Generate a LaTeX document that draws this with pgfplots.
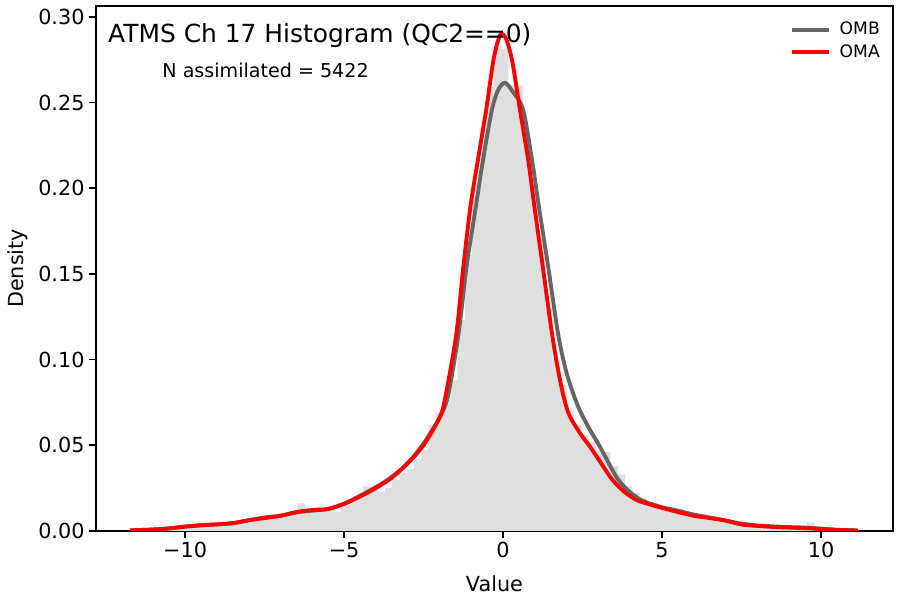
\documentclass[border=0pt]{standalone}
\usepackage{pgfplots}
\pgfplotsset{compat=1.18}
\usepackage{fontspec}
\setmainfont{DejaVu Sans}
\definecolor{histgray}{RGB}{223,223,223}
\definecolor{ombgray}{RGB}{102,102,102}
\begin{document}
\begin{tikzpicture}
\begin{axis}[
  scale only axis,
  width=576pt, height=379.4pt,
  xmin=-12.80, xmax=12.26,
  ymin=0, ymax=0.3064,
  axis line style={line width=1.1pt},
  tick style={black, line width=1.1pt},
  tick align=outside,
  major tick length=4.8pt,
  xtick pos=bottom, ytick pos=left,
  xtick={-10,-5,0,5,10},
  xticklabels={−10,−5,0,5,10},
  ytick={0,0.05,0.10,0.15,0.20,0.25,0.30},
  yticklabels={0.00,0.05,0.10,0.15,0.20,0.25,0.30},
  tick label style={font=\fontsize{15}{18}\selectfont},
  xlabel={Value}, ylabel={Density},
  xlabel style={at={(axis description cs:0.5,-0.1161)}, anchor=base, font=\fontsize{15}{18}\selectfont},
  ylabel style={at={(axis description cs:-0.0916,0.5)}, anchor=base, font=\fontsize{15}{18}\selectfont},
  legend style={at={(rel axis cs:0.9925,0.98)}, anchor=north east, draw=none, fill=none,
    font=\fontsize{12.4}{14}\selectfont, row sep=1.5pt},
  legend cell align=left,
  legend image code/.code={\draw[#1] (0pt,0pt) -- (26.7pt,0pt); \path (31pt,0pt);},
]
\addplot[ybar interval, fill=histgray, draw=none, forget plot] coordinates {
(-11.73,0.0004) (-11.50,0.0004) (-11.27,0.0000) (-11.04,0.0008) (-10.81,0.0012)
(-10.59,0.0015) (-10.36,0.0022) (-10.13,0.0035) (-9.90,0.0040) (-9.67,0.0035)
(-9.44,0.0038) (-9.21,0.0035) (-8.98,0.0042) (-8.75,0.0045) (-8.53,0.0050)
(-8.30,0.0060) (-8.07,0.0065) (-7.84,0.0075) (-7.61,0.0080) (-7.38,0.0085)
(-7.15,0.0088) (-6.92,0.0095) (-6.69,0.0110) (-6.47,0.0160) (-6.24,0.0120)
(-6.01,0.0125) (-5.78,0.0120) (-5.55,0.0130) (-5.32,0.0110) (-5.09,0.0150)
(-4.86,0.0175) (-4.63,0.0200) (-4.41,0.0260) (-4.18,0.0260) (-3.95,0.0230)
(-3.72,0.0250) (-3.49,0.0300) (-3.26,0.0340) (-3.03,0.0360) (-2.80,0.0420)
(-2.57,0.0470) (-2.35,0.0620) (-2.12,0.0690) (-1.89,0.0780) (-1.66,0.0880)
(-1.43,0.1230) (-1.20,0.1610) (-0.97,0.2020) (-0.74,0.2350) (-0.51,0.2590)
(-0.29,0.2830) (-0.06,0.2810) (0.17,0.2600) (0.40,0.2600) (0.63,0.2270)
(0.86,0.2030) (1.09,0.1700) (1.32,0.1300) (1.55,0.1000) (1.77,0.0850)
(2.00,0.0700) (2.23,0.0620) (2.46,0.0560) (2.69,0.0520) (2.92,0.0470)
(3.15,0.0460) (3.38,0.0380) (3.61,0.0330) (3.84,0.0260) (4.06,0.0220)
(4.29,0.0190) (4.52,0.0160) (4.75,0.0150) (4.98,0.0130) (5.21,0.0120)
(5.44,0.0125) (5.67,0.0110) (5.90,0.0090) (6.13,0.0085) (6.35,0.0080)
(6.58,0.0072) (6.81,0.0070) (7.04,0.0062) (7.27,0.0040) (7.50,0.0035)
(7.73,0.0032) (7.96,0.0030) (8.19,0.0028) (8.42,0.0025) (8.64,0.0020)
(8.87,0.0018) (9.10,0.0022) (9.33,0.0015) (9.56,0.0050) (9.79,0.0015)
(10.02,0.0010) (10.25,0.0008) (10.48,0.0005) (10.71,0.0004) (10.94,0.0004)
(11.17,0)
};
\addplot[ombgray, line width=2.8pt, smooth, tension=0.5] coordinates {
(-11.73,0.0003) (-11,0.0008) (-10.5,0.0015) (-10,0.0025) (-9.5,0.0032)
(-9,0.0038) (-8.5,0.0045) (-8,0.0062) (-7.5,0.0078) (-7,0.0088)
(-6.5,0.0108) (-6,0.0118) (-5.5,0.0128) (-5,0.0158) (-4.5,0.0205)
(-4,0.0255) (-3.5,0.0315) (-3,0.0395) (-2.5,0.051) (-2,0.066)
(-1.73,0.0790) (-1.4,0.115) (-1.15,0.154) (-0.85,0.190) (-0.63,0.2166)
(-0.35,0.2458) (-0.15,0.2575) (0.06,0.2615) (0.3,0.2565) (0.63,0.2458)
(0.91,0.2166) (1.12,0.190) (1.42,0.154) (1.73,0.115) (2.0,0.092)
(2.35,0.073) (2.7,0.060) (3.05,0.049) (3.58,0.031) (4.0,0.0225)
(4.4,0.0175) (5.0,0.0138) (5.5,0.0118) (6.0,0.0095) (6.5,0.0078)
(7.0,0.006) (7.5,0.0042) (8,0.0032) (8.5,0.0026) (9,0.0022)
(9.5,0.0019) (10,0.0013) (10.5,0.0006) (11.16,0.0002)
};
\addlegendentry{OMB}
\addplot[red, line width=2.8pt, smooth, tension=0.5] coordinates {
(-11.73,0.0003) (-11,0.0008) (-10.5,0.0014) (-10,0.0025) (-9.5,0.0033)
(-9,0.0038) (-8.5,0.0045) (-8,0.0062) (-7.5,0.0075) (-7,0.0088)
(-6.5,0.011) (-6,0.0122) (-5.5,0.0128) (-5,0.0158) (-4.5,0.020)
(-4,0.025) (-3.5,0.031) (-3,0.0395) (-2.5,0.050) (-2,0.066)
(-1.82,0.0775) (-1.47,0.115) (-1.25,0.154) (-1.02,0.19) (-0.79,0.2166)
(-0.53,0.2458) (-0.3,0.275) (-0.09,0.2895) (0.1,0.287) (0.3,0.273)
(0.53,0.2458) (0.79,0.2166) (0.98,0.19) (1.25,0.154) (1.54,0.115)
(1.79,0.088) (2.05,0.069) (2.42,0.057) (2.74,0.049) (3.1,0.039)
(3.43,0.030) (3.8,0.023) (4.2,0.018) (4.6,0.0155) (5.0,0.0134)
(5.5,0.011) (6.0,0.0088) (6.5,0.0075) (7.0,0.006) (7.5,0.0037)
(8,0.0029) (8.5,0.0023) (9,0.0019) (9.5,0.0016) (10,0.0011)
(10.5,0.0006) (11.16,0.0002)
};
\addlegendentry{OMA}
\node[anchor=base west, inner sep=0pt, font=\fontsize{18}{21}\selectfont] at (rel axis cs:0.015,0.931) {ATMS Ch 17 Histogram (QC2==0)};
\node[anchor=base west, inner sep=0pt, font=\fontsize{13.8}{16}\selectfont] at (rel axis cs:0.083,0.863) {N assimilated = 5422};
\end{axis}
\pgfresetboundingbox
\path[use as bounding box] (current axis.south west) ++(-69.4pt,-49.9pt) rectangle ([shift={(5.1pt,4.3pt)}]current axis.north east);
\end{tikzpicture}
\end{document}
